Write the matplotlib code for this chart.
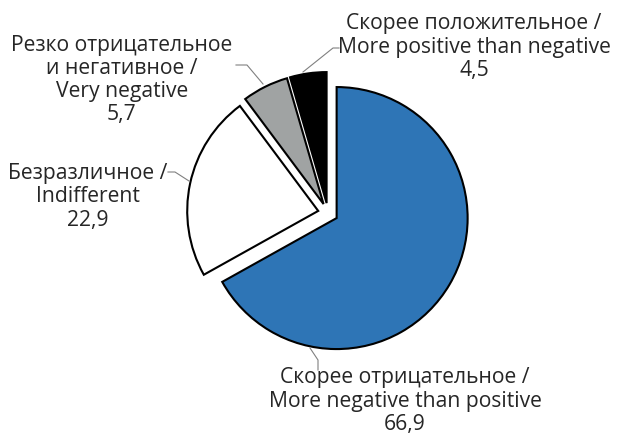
import matplotlib.pyplot as plt

labels = ["Скорее отрицательное /\nMore negative than positive",
          "Безразличное /\nIndifferent",
          "Резко отрицательное\nи негативное /\nVery negative",
          "Скорее положительное /\nMore positive than negative"]
values = [66.9, 22.9, 5.7, 4.5]
colors = ["#2E75B6", "#FFFFFF", "#A0A3A3", "#000000"]

W, H = 622, 434
fig = plt.figure(figsize=(W / 100, H / 100), dpi=100)
ax = fig.add_axes([0, 0, 1, 1])

# pixel coords, y measured from top
def fy(y):
    return H - y

ax.pie(values, center=(328, fy(213)), radius=131, explode=[10] * 4,
       startangle=90, counterclock=False, colors=colors,
       wedgeprops=dict(edgecolor="black", linewidth=1.5))
ax.set_xlim(0, W)
ax.set_ylim(0, H)
ax.set_aspect("auto")
ax.axis("off")

font = dict(family="Open Sans", fontsize=15.2, color="#262626",
            ha="center", va="center", linespacing=1.13)

# label centre x, y of middle of text block, leader line points
layout = [
    (405, 401, [(310, 348), (318, 360), (318, 370)]),
    (88, 197, [(168, 172), (175, 172), (189, 181)]),
    (122, 80, [(236, 65), (247, 65), (263, 84)]),
    (474, 47, [(339, 48), (333, 48), (303, 72)]),
]

for lab, v, (x, y, pts) in zip(labels, values, layout):
    txt = lab + "\n" + f"{v:.1f}".replace(".", ",")
    ax.text(x, fy(y), txt, **font)
    ax.plot([p[0] for p in pts], [fy(p[1]) for p in pts],
            color="#808080", lw=0.8)

fig.savefig("out.png", dpi=100)
